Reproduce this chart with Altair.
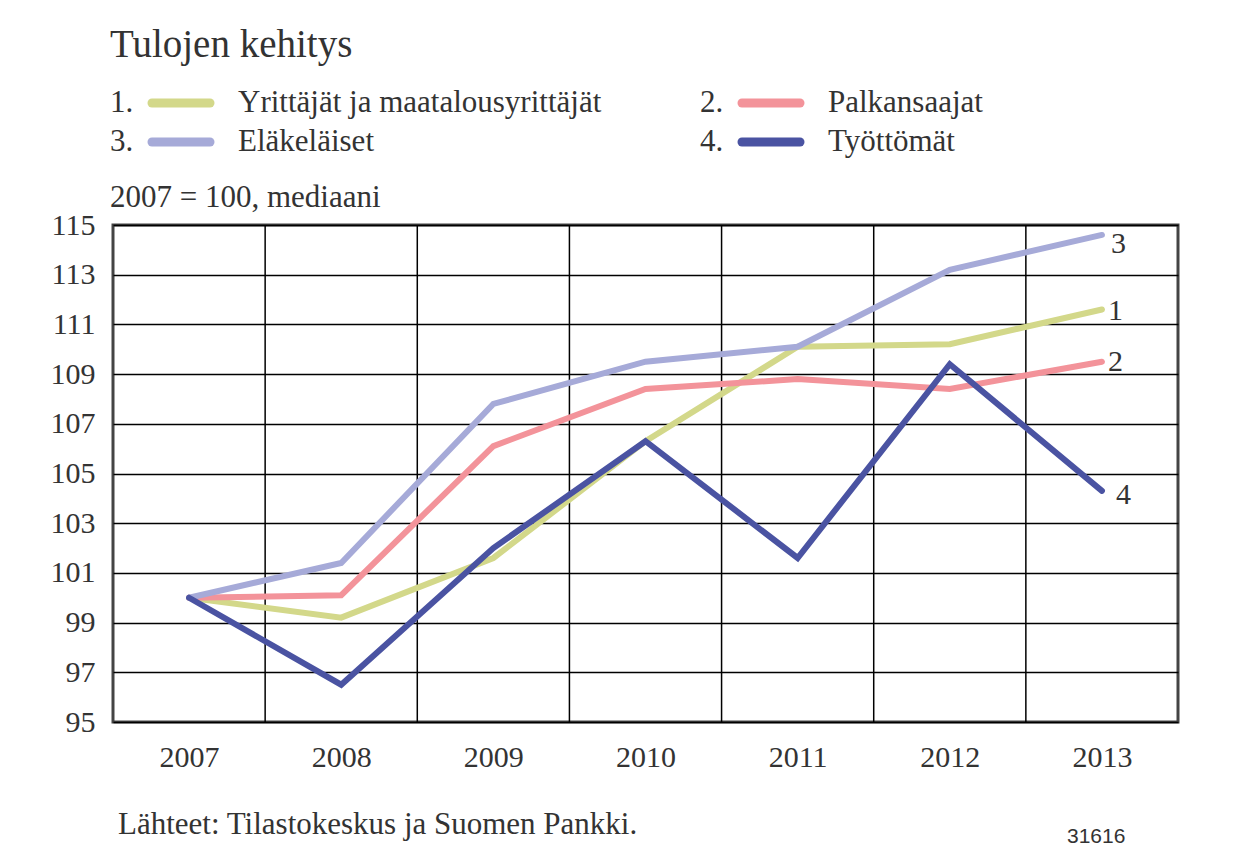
import altair as alt
import pandas as pd

years = [2007, 2008, 2009, 2010, 2011, 2012, 2013]
series_names = ["Yrittäjät ja maatalousyrittäjät", "Palkansaajat", "Eläkeläiset", "Työttömät"]
series_nums = ["1", "2", "3", "4"]
yrittajat = [100.0, 99.2, 101.6, 106.3, 110.1, 110.2, 111.6]
palkansaajat = [100.0, 100.1, 106.1, 108.4, 108.8, 108.4, 109.5]
elakelaiset = [100.0, 101.4, 107.8, 109.5, 110.1, 113.2, 114.6]
tyottomat = [100.0, 96.5, 102.0, 106.3, 101.6, 109.4, 104.3]
y_ticks = [95, 97, 99, 101, 103, 105, 107, 109, 111, 113, 115]
colors = ["#d3d88a", "#f3939a", "#a6aad8", "#4a53a2"]

FONT = "Liberation Serif"
TXT = "#333333"

values = [yrittajat, palkansaajat, elakelaiset, tyottomat]
rows = []
for name, num, vals in zip(series_names, series_nums, values):
    for yr, v in zip(years, vals):
        rows.append({"year": yr, "value": v, "series": name, "num": num})
df = pd.DataFrame(rows)

xscale = alt.Scale(domain=[years[0] - 0.5, years[-1] + 0.5], nice=False, zero=False)
yscale = alt.Scale(domain=[y_ticks[0], y_ticks[-1]], nice=False, zero=False)
cscale = alt.Scale(domain=series_names, range=colors)

xaxis = alt.Axis(values=years, format="d", grid=False, ticks=False, domain=False,
                 labelFont=FONT, labelFontSize=30, labelColor=TXT, labelPadding=20,
                 title=None, labelFlush=False)
yaxis = alt.Axis(values=y_ticks, grid=True, gridColor="black", gridWidth=1.5,
                 ticks=False, domain=False, labelFont=FONT, labelFontSize=30,
                 labelColor=TXT, labelPadding=18, title=None)

# vertical grid lines at the year boundaries
bounds = pd.DataFrame({"b": [y + 0.5 for y in years[:-1]]})
vgrid = alt.Chart(bounds).mark_rule(color="black", strokeWidth=1.5).encode(
    x=alt.X("b:Q", scale=xscale, axis=xaxis)
)

base = alt.Chart(df).encode(
    x=alt.X("year:Q", scale=xscale, axis=xaxis),
    y=alt.Y("value:Q", scale=yscale, axis=yaxis),
)

lines = base.mark_line(strokeWidth=6, strokeCap="round").encode(
    color=alt.Color("series:N", scale=cscale, legend=None),
    order=alt.Order("year:Q"),
    detail="series:N",
)

# end labels
end_off = {"1": (6, 2), "2": (6, 0), "3": (9, 9), "4": (14, 4)}
end_layers = []
for name, num in zip(series_names, series_nums):
    dx, dy = end_off[num]
    sub = df[(df["series"] == name) & (df["year"] == years[-1])]
    end_layers.append(
        alt.Chart(sub).mark_text(align="left", baseline="middle", font=FONT, fontSize=30,
                                 color=TXT, dx=dx, dy=dy).encode(
            x=alt.X("year:Q", scale=xscale, axis=xaxis),
            y=alt.Y("value:Q", scale=yscale, axis=yaxis), text="num:N")
    )

# texts outside the plot
def txt(s, x, y, size=31, font=FONT, color=TXT, align="left"):
    return alt.Chart(pd.DataFrame({"t": [s]})).mark_text(
        align=align, baseline="middle", font=font, fontSize=size, color=color
    ).encode(x=alt.value(x), y=alt.value(y), text="t:N")

texts = [
    txt("Tulojen kehitys", -3, -180, size=39),
    txt("2007 = 100, mediaani", -3, -27, size=31),
    txt("Lähteet: Tilastokeskus ja Suomen Pankki.", 5, 600, size=31),
    txt("31616", 954, 612, size=21, font="Liberation Sans"),
]

# custom legend
leg_pos = [(-3, -122), (587, -122), (-3, -83), (587, -83)]
legend_layers = []
for (lx, ly), name, num, col in zip(leg_pos, series_names, series_nums, colors):
    legend_layers.append(txt(num + ".", lx, ly, size=31))
    legend_layers.append(
        alt.Chart(pd.DataFrame({"s": [name]})).mark_rule(strokeWidth=9, strokeCap="round", color=col)
        .encode(x=alt.value(lx + 42), x2=alt.value(lx + 100), y=alt.value(ly))
    )
    legend_layers.append(txt(name, lx + 128, ly, size=31))

chart = alt.layer(vgrid, lines, *end_layers, *texts, *legend_layers).properties(
    width=1065, height=497,
    padding={"left": 105, "top": 217, "right": 53, "bottom": 124},
    autosize="none",
    background="white",
).configure_view(stroke="#444444", strokeWidth=3)

chart.save("out.html", embed_options={"renderer": "svg", "actions": False})
